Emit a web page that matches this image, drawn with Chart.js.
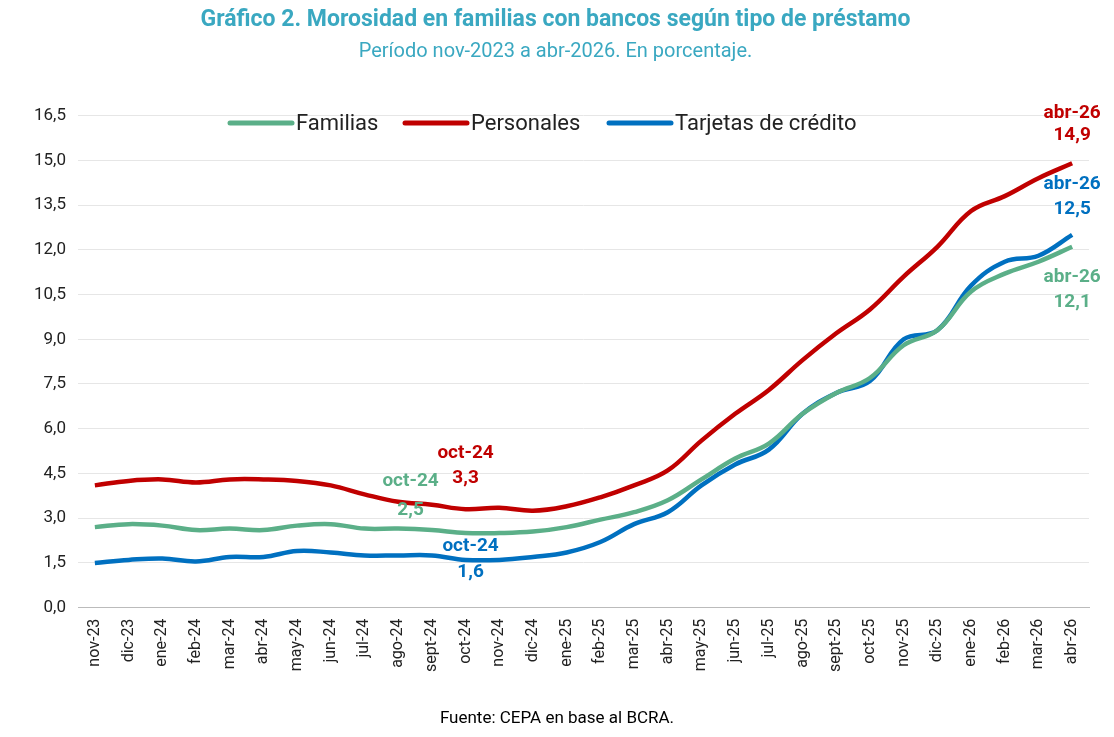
<!DOCTYPE html>
<html><head><meta charset="utf-8">
<script src="https://cdn.jsdelivr.net/npm/chart.js@4"></script>
<style>
html,body{margin:0;padding:0;background:#fff;font-family:Roboto,sans-serif;}
#wrap{position:relative;width:1114px;height:737px;}
#foot{position:absolute;left:0;width:1114px;top:707px;text-align:center;font-size:17px;color:#000;}
</style></head><body>
<div id="wrap"><canvas id="c" width="1114" height="737"></canvas><div id="foot">Fuente: CEPA en base al BCRA.</div></div>
<script>
const categories=["nov-23","dic-23","ene-24","feb-24","mar-24","abr-24","may-24","jun-24","jul-24","ago-24","sept-24","oct-24","nov-24","dic-24","ene-25","feb-25","mar-25","abr-25","may-25","jun-25","jul-25","ago-25","sept-25","oct-25","nov-25","dic-25","ene-26","feb-26","mar-26","abr-26"];
const familias=[2.7,2.8,2.75,2.6,2.65,2.6,2.75,2.8,2.65,2.65,2.6,2.5,2.5,2.55,2.7,2.95,3.2,3.6,4.3,5.0,5.5,6.5,7.2,7.7,8.8,9.3,10.6,11.2,11.6,12.1];
const personales=[4.1,4.25,4.3,4.2,4.3,4.3,4.25,4.1,3.8,3.55,3.45,3.3,3.35,3.25,3.4,3.7,4.1,4.6,5.6,6.5,7.3,8.3,9.2,10.0,11.1,12.1,13.3,13.8,14.4,14.9];
const tarjetas=[1.5,1.6,1.65,1.55,1.7,1.7,1.9,1.85,1.75,1.75,1.75,1.6,1.6,1.7,1.85,2.2,2.8,3.2,4.1,4.8,5.3,6.5,7.2,7.6,9.0,9.3,10.8,11.6,11.8,12.5];
const yTicks=[0,1.5,3,4.5,6,7.5,9,10.5,12,13.5,15,16.5];
const cG='#5BAF88',cR='#C00000',cB='#0070C0';
const fmt=v=>v.toFixed(1).replace('.',',');
const notes=[[1,11,0,-56,-31],[0,11,-55,-52,-23],[2,11,5,-14,12],[1,29,0,-50,-28],[2,29,0,-51,-26],[0,29,0,30,55]];
const plug={id:'ann',afterDatasetsDraw(ch){
 const ctx=ch.ctx;ctx.save();ctx.textAlign='center';ctx.textBaseline='middle';ctx.font='bold 19px Roboto';
 notes.forEach(([d,i,dx,y1,y2])=>{const ds=ch.data.datasets[d];const p=ch.getDatasetMeta(d).data[i];
  ctx.fillStyle=ds.borderColor;ctx.fillText(categories[i],p.x+dx,p.y+y1);ctx.fillText(fmt(ds.data[i]),p.x+dx,p.y+y2);});
 ctx.font='22px Roboto';ctx.textAlign='left';
 const items=[['Familias',cG,230],['Personales',cR,405],['Tarjetas de crédito',cB,609]];
 items.forEach(([t,c,x])=>{ctx.strokeStyle=c;ctx.lineWidth=5;ctx.lineCap='round';ctx.beginPath();ctx.moveTo(x,123);ctx.lineTo(x+62,123);ctx.stroke();ctx.fillStyle='#222';ctx.fillText(t,x+66,124);});
 ctx.restore();}};
new Chart(document.getElementById('c'),{type:'line',
 data:{labels:categories,datasets:[
  {label:'Familias',data:familias,borderColor:cG},
  {label:'Personales',data:personales,borderColor:cR},
  {label:'Tarjetas de crédito',data:tarjetas,borderColor:cB}].map(d=>Object.assign(d,{borderWidth:4.5,pointRadius:0,tension:0.4,fill:false}))},
 options:{responsive:false,animation:false,
  layout:{padding:{left:22,right:25,top:0,bottom:62}},
  plugins:{legend:{display:false},tooltip:{enabled:false},
   title:{display:true,text:'Gráfico 2. Morosidad en familias con bancos según tipo de préstamo',color:'#3AA8C1',font:{family:'Roboto',size:23,weight:'bold'},padding:{top:6,bottom:6}},
   subtitle:{display:true,text:'Período nov-2023 a abr-2026. En porcentaje.',color:'#3AA8C1',font:{family:'Roboto',size:20},padding:{bottom:52}}},
  scales:{
   x:{offset:true,grid:{display:false,drawTicks:true},border:{color:'#bbb'},ticks:{color:'#222',font:{family:'Roboto',size:16},maxRotation:90,minRotation:90,autoSkip:false}},
   y:{min:0,max:16.5,afterBuildTicks:a=>{a.ticks=yTicks.map(v=>({value:v}));},grid:{color:'#e6e6e6',drawTicks:false},border:{display:false},
      ticks:{color:'#222',font:{family:'Roboto',size:17},padding:12,callback:v=>fmt(v)}}}},
 plugins:[plug]});
</script></body></html>
